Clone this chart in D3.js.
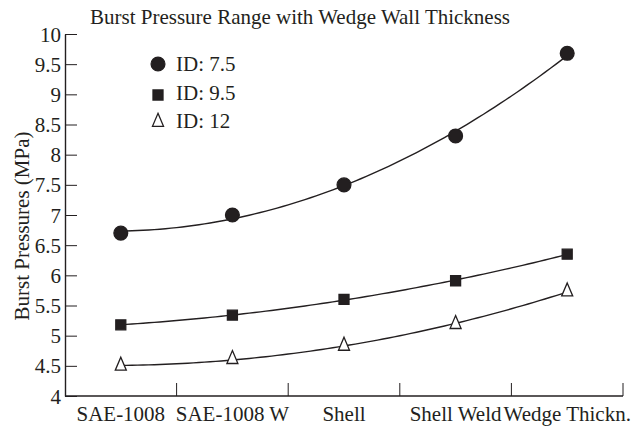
<!DOCTYPE html>
<html>
<head>
<meta charset="utf-8">
<script src="https://cdn.jsdelivr.net/npm/d3@7"></script>
<style>
  body { margin: 0; background: #fff; }
  svg { display: block; font-family: "Liberation Serif", "Times New Roman", serif; }
</style>
</head>
<body>
<div id="chart"></div>
<script>
const categories = ["SAE-1008", "SAE-1008 W", "Shell", "Shell Weld", "Wedge Thickn."];
const id75 = [6.70, 7.00, 7.50, 8.31, 9.68];
const id95 = [5.18, 5.34, 5.60, 5.91, 6.35];
const id12 = [4.50, 4.61, 4.83, 5.19, 5.73];
const yTicks = [4, 4.5, 5, 5.5, 6, 6.5, 7, 7.5, 8, 8.5, 9, 9.5, 10];

const width = 639, height = 427;
const margin = { top: 34, right: 16, bottom: 31, left: 65 };
const ink = "#231f20";

const svg = d3.select("#chart").append("svg")
  .attr("width", width)
  .attr("height", height);

const x = d3.scaleBand()
  .domain(categories)
  .range([margin.left, width - margin.right]);

const y = d3.scaleLinear()
  .domain([4, 10])
  .range([height - margin.bottom, margin.top]);

const cx = d => x(d) + x.bandwidth() / 2;

// tall open triangle like the original marker
const tallTriangle = {
  draw(context, size) {
    const h = Math.sqrt(size * 2.4), w = h * 0.85;
    context.moveTo(0, -h * 2 / 3);
    context.lineTo(w / 2, h / 3);
    context.lineTo(-w / 2, h / 3);
    context.closePath();
  }
};

// title
svg.append("text")
  .attr("x", 300)
  .attr("y", 24)
  .attr("text-anchor", "middle")
  .attr("font-size", 21)
  .attr("fill", ink)
  .text("Burst Pressure Range with Wedge Wall Thickness");

// y axis
const yAxis = svg.append("g")
  .attr("transform", `translate(${margin.left},0)`)
  .call(d3.axisLeft(y).tickValues(yTicks).tickSizeInner(-12).tickSizeOuter(0).tickPadding(4).tickFormat(d => d));
yAxis.select(".domain").attr("stroke", ink).attr("stroke-width", 1.4);
yAxis.selectAll(".tick line").attr("stroke", ink).attr("stroke-width", 1);
yAxis.selectAll(".tick text")
  .attr("font-family", "Liberation Serif")
  .attr("font-size", 21)
  .attr("fill", ink)
  .attr("dy", "0.34em");

svg.append("text")
  .attr("transform", `translate(29,226) rotate(-90)`)
  .attr("text-anchor", "middle")
  .attr("font-size", 21)
  .attr("fill", ink)
  .text("Burst Pressures (MPa)");

// x axis
const xAxis = svg.append("g")
  .attr("transform", `translate(0,${height - margin.bottom})`);
xAxis.append("line")
  .attr("x1", margin.left).attr("x2", width - margin.right)
  .attr("stroke", ink).attr("stroke-width", 1.4);
xAxis.selectAll("line.tk")
  .data(categories)
  .join("line")
  .attr("class", "tk")
  .attr("x1", d => x(d) + x.bandwidth())
  .attr("x2", d => x(d) + x.bandwidth())
  .attr("y1", 0).attr("y2", -13)
  .attr("stroke", ink).attr("stroke-width", 1);
xAxis.selectAll("text")
  .data(categories)
  .join("text")
  .attr("x", cx)
  .attr("y", 25)
  .attr("text-anchor", "middle")
  .attr("font-size", 21)
  .attr("fill", ink)
  .text(d => d);

// quadratic least-squares trend
function quadFit(vals) {
  const xs = vals.map((_, i) => i);
  const mx = d3.mean(xs);
  const p1 = xs.map(v => v - mx);
  const m2 = d3.mean(p1.map(v => v * v));
  const p2 = p1.map(v => v * v - m2);
  const my = d3.mean(vals);
  const b1 = d3.sum(vals.map((v, i) => v * p1[i])) / d3.sum(p1.map(v => v * v));
  const b2 = d3.sum(vals.map((v, i) => v * p2[i])) / d3.sum(p2.map(v => v * v));
  return t => my + b1 * (t - mx) + b2 * ((t - mx) * (t - mx) - m2);
}

const xi = d3.scaleLinear().domain([0, categories.length - 1])
  .range([cx(categories[0]), cx(categories[categories.length - 1])]);

const line = d3.line().x(d => xi(d[0])).y(d => y(d[1]));

const series = [
  { name: "ID: 7.5", values: id75, symbol: d3.symbolCircle, size: 150, fill: ink },
  { name: "ID: 9.5", values: id95, symbol: d3.symbolSquare, size: 100, fill: ink },
  { name: "ID: 12", values: id12, symbol: tallTriangle, size: 70, fill: "#fff" }
];

series.forEach(s => {
  const f = quadFit(s.values);
  const pts = d3.range(0, 4.0001, 0.05).map(t => [t, f(t)]);
  svg.append("path")
    .attr("d", line(pts))
    .attr("fill", "none")
    .attr("stroke", ink)
    .attr("stroke-width", 1.4);
});

series.forEach(s => {
  svg.append("g").selectAll("path")
    .data(s.values)
    .join("path")
    .attr("transform", (d, i) => `translate(${cx(categories[i])},${y(d)})`)
    .attr("d", d3.symbol().type(s.symbol).size(s.size))
    .attr("fill", s.fill)
    .attr("stroke", ink)
    .attr("stroke-width", 1.3);
});

// legend
const legend = svg.append("g");
const legY = [64, 95, 122];
series.forEach((s, i) => {
  legend.append("path")
    .attr("transform", `translate(158,${legY[i]})`)
    .attr("d", d3.symbol().type(s.symbol).size(s.size))
    .attr("fill", s.fill)
    .attr("stroke", ink)
    .attr("stroke-width", 1.3);
  legend.append("text")
    .attr("x", 176)
    .attr("y", [71, 100, 128][i])
    .attr("font-size", 21)
    .attr("fill", ink)
    .text(s.name);
});
</script>
</body>
</html>
